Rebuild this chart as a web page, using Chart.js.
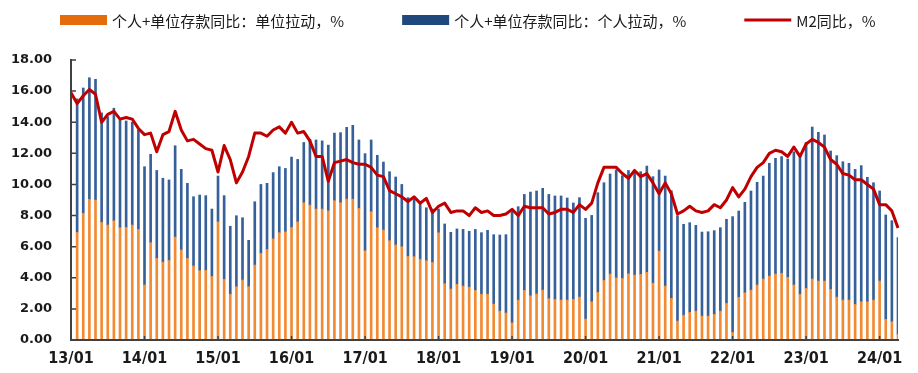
<!DOCTYPE html>
<html>
<head>
<meta charset="utf-8">
<script src="https://cdn.jsdelivr.net/npm/chart.js@4.4.1/dist/chart.umd.min.js"></script>
<style>
  html, body { margin: 0; padding: 0; background: #fff; }
  #wrap { width: 918px; height: 373px; }
</style>
</head>
<body>
<div id="wrap"><canvas id="chart" width="918" height="373"></canvas></div>
<script>
// years shown on the axis, data runs 13/01 .. 24/04
const years = ['13', '14', '15', '16', '17', '18', '19', '20', '21', '22', '23', '24'];
const lastYearMonths = 4;

// 个人+单位存款同比：单位拉动，%
const unitPull = [
  null, 6.92, 8.14, 9.04, 9.00, 7.56, 7.39, 7.67, 7.22, 7.24, 7.39, 7.11,
  3.54, 6.26, 5.25, 5.01, 5.12, 6.62, 5.79, 5.25, 4.76, 4.46, 4.48, 4.09,
  7.60, 3.90, 2.94, 3.43, 3.86, 3.43, 4.82, 5.57, 5.83, 6.51, 6.90, 6.96,
  7.24, 7.60, 8.83, 8.68, 8.42, 8.42, 8.31, 8.96, 8.83, 9.06, 9.06, 8.46,
  5.74, 8.25, 7.22, 7.07, 6.39, 6.11, 6.00, 5.38, 5.36, 5.19, 5.10, 4.99,
  6.90, 3.62, 3.28, 3.58, 3.47, 3.40, 3.19, 2.94, 2.94, 2.31, 1.86, 1.74,
  1.11, 2.57, 3.19, 2.85, 2.96, 3.21, 2.66, 2.61, 2.57, 2.57, 2.61, 2.76,
  1.35, 2.46, 3.06, 3.84, 4.24, 4.00, 3.96, 4.26, 4.18, 4.22, 4.35, 3.66,
  5.72, 3.47, 2.68, 1.22, 1.59, 1.78, 1.86, 1.54, 1.54, 1.65, 1.86, 2.36,
  0.49, 2.74, 3.04, 3.21, 3.54, 3.92, 4.11, 4.24, 4.29, 4.03, 3.54, 2.94,
  3.32, 3.92, 3.79, 3.79, 3.26, 2.76, 2.57, 2.57, 2.29, 2.46, 2.46, 2.57,
  3.79, 1.33, 1.18, 0.36
];

// 个人+单位存款同比：个人拉动，%
const personalPull = [
  null, 8.58, 8.06, 7.82, 7.76, 7.04, 6.97, 7.23, 6.92, 6.84, 6.61, 6.39,
  7.60, 5.68, 5.65, 5.39, 5.17, 5.87, 5.18, 4.82, 4.45, 4.86, 4.80, 4.33,
  2.94, 5.38, 4.37, 4.56, 4.00, 2.98, 4.07, 4.43, 4.24, 4.25, 4.24, 4.07,
  4.52, 4.01, 3.87, 4.22, 4.44, 4.38, 4.22, 4.34, 4.50, 4.61, 4.74, 4.40,
  6.24, 4.61, 4.65, 4.37, 4.43, 4.37, 4.00, 3.77, 3.85, 3.70, 3.40, 3.43,
  1.52, 3.84, 3.64, 3.56, 3.64, 3.59, 3.92, 3.96, 4.11, 4.46, 4.89, 5.03,
  7.14, 6.00, 6.17, 6.66, 6.62, 6.54, 6.70, 6.65, 6.69, 6.56, 6.20, 6.39,
  6.47, 5.55, 6.41, 6.27, 6.43, 6.93, 6.60, 6.64, 6.68, 6.60, 6.83, 6.84,
  5.21, 7.07, 6.92, 6.77, 5.85, 5.76, 5.51, 5.40, 5.42, 5.38, 5.36, 5.40,
  7.44, 5.55, 5.81, 6.37, 6.60, 6.62, 7.25, 7.44, 7.50, 7.61, 8.56, 9.06,
  9.38, 9.77, 9.56, 9.39, 8.89, 9.09, 8.89, 8.79, 8.68, 8.75, 8.00, 7.54,
  5.79, 6.71, 6.49, 6.22
];

// M2同比，%
const m2Yoy = [
  15.9, 15.2, 15.7, 16.1, 15.8, 14.0, 14.5, 14.7, 14.2, 14.3, 14.2, 13.6,
  13.2, 13.3, 12.1, 13.2, 13.4, 14.7, 13.5, 12.8, 12.9, 12.6, 12.3, 12.2,
  10.8, 12.5, 11.6, 10.1, 10.8, 11.8, 13.3, 13.3, 13.1, 13.5, 13.7, 13.3,
  14.0, 13.3, 13.4, 12.8, 11.8, 11.8, 10.2, 11.4, 11.5, 11.6, 11.4, 11.3,
  11.3, 11.1, 10.6, 10.5, 9.6, 9.4, 9.2, 8.9, 9.2, 8.8, 9.1, 8.2,
  8.6, 8.8, 8.2, 8.3, 8.3, 8.0, 8.5, 8.2, 8.3, 8.0, 8.0, 8.1,
  8.4, 8.0, 8.6, 8.5, 8.5, 8.5, 8.1, 8.2, 8.4, 8.4, 8.2, 8.7,
  8.4, 8.8, 10.1, 11.1, 11.1, 11.1, 10.7, 10.4, 10.9, 10.5, 10.7, 10.1,
  9.4, 10.1, 9.4, 8.1, 8.3, 8.6, 8.3, 8.2, 8.3, 8.7, 8.5, 9.0,
  9.8, 9.2, 9.7, 10.5, 11.1, 11.4, 12.0, 12.2, 12.1, 11.8, 12.4, 11.8,
  12.6, 12.9, 12.7, 12.4, 11.6, 11.3, 10.7, 10.6, 10.3, 10.3, 10.0, 9.7,
  8.7, 8.7, 8.3, 7.2
];

const labelUnit = '个人+单位存款同比：单位拉动，%';
const labelPersonal = '个人+单位存款同比：个人拉动，%';
const labelM2 = 'M2同比，%';

const months = [];
years.forEach((y, yi) => {
    const n = yi === years.length - 1 ? lastYearMonths : 12;
    for (let m = 1; m <= n; m++) months.push(`${y}/${String(m).padStart(2, '0')}`);
});

const axisColor = '#404040';
const textColor = '#1a1a1a';

// short tick marks pointing into the plot, like the original
const innerTicks = {
    id: 'innerTicks',
    afterDatasetsDraw(chart) {
        const { ctx, chartArea: a, scales: { x, y } } = chart;
        ctx.save();
        ctx.strokeStyle = axisColor;
        ctx.lineWidth = 1.5;
        ctx.beginPath();
        y.ticks.forEach(t => {
            const py = y.getPixelForValue(t.value);
            ctx.moveTo(a.left, py);
            ctx.lineTo(a.left + 5, py);
        });
        x.ticks.forEach(t => {
            if (!months[t.value].endsWith('/01')) return;
            const px = x.getPixelForValue(t.value);
            ctx.moveTo(px, a.bottom);
            ctx.lineTo(px, a.bottom - 4);
        });
        ctx.stroke();
        ctx.restore();
    }
};

// legend row across the top
const topLegend = {
    id: 'topLegend',
    afterDraw(chart, args, opts) {
        const ctx = chart.ctx;
        ctx.save();
        ctx.font = opts.font;
        ctx.textBaseline = 'middle';
        ctx.fillStyle = textColor;
        let x = opts.startX;
        const cy = opts.y;
        opts.items.forEach(item => {
            const ds = chart.data.datasets[item.index];
            if (item.swatch === 'line') {
                ctx.strokeStyle = item.color;
                ctx.lineWidth = 3;
                ctx.beginPath();
                ctx.moveTo(x, cy);
                ctx.lineTo(x + opts.swatchWidth, cy);
                ctx.stroke();
            } else {
                ctx.fillStyle = item.color;
                ctx.fillRect(x, cy - 5, opts.swatchWidth, 10);
            }
            ctx.fillStyle = textColor;
            const tx = x + opts.swatchWidth + 5;
            ctx.fillText(ds.label, tx, cy + 1);
            x = tx + ctx.measureText(ds.label).width + opts.gap;
        });
        ctx.restore();
    }
};

new Chart(document.getElementById('chart'), {
    data: {
        labels: months,
        datasets: [
            {
                type: 'line',
                label: labelM2,
                data: m2Yoy,
                borderColor: '#C00000',
                borderWidth: 3,
                pointRadius: 0,
                tension: 0,
                borderJoinStyle: 'round',
                stack: 'm2',
                order: 0
            },
            {
                type: 'bar',
                label: labelUnit,
                data: unitPull,
                backgroundColor: '#F28A33',
                barThickness: 2,
                stack: 'deposit',
                order: 1
            },
            {
                type: 'bar',
                label: labelPersonal,
                data: personalPull,
                backgroundColor: '#36609A',
                barThickness: 2,
                stack: 'deposit',
                order: 1
            }
        ]
    },
    options: {
        responsive: false,
        animation: false,
        layout: { padding: { top: 60, right: 20, bottom: 0, left: 0 } },
        plugins: {
            legend: { display: false },
            tooltip: { enabled: false },
            topLegend: {
                font: "15px 'Noto Sans CJK SC', sans-serif",
                startX: 60,
                y: 20,
                swatchWidth: 47,
                gap: 58,
                items: [
                    { index: 1, swatch: 'box', color: '#E46C0A' },
                    { index: 2, swatch: 'box', color: '#1F497D' },
                    { index: 0, swatch: 'line', color: '#C00000' }
                ]
            }
        },
        scales: {
            x: {
                type: 'category',
                stacked: true,
                offset: false,
                grid: { display: false, drawTicks: false },
                border: { display: true, color: axisColor, width: 2, z: 1 },
                ticks: {
                    autoSkip: false,
                    maxRotation: 0,
                    minRotation: 0,
                    padding: 9,
                    color: textColor,
                    font: { family: "'Liberation Sans Narrow', 'DejaVu Sans Condensed', sans-serif", size: 16, weight: 'bold' },
                    callback(value) {
                        const l = this.getLabelForValue(value);
                        return l.endsWith('/01') ? l : '';
                    }
                },
                afterFit(scale) { scale.height = 33; }
            },
            y: {
                stacked: true,
                min: 0,
                max: 18,
                grid: { display: false, drawTicks: false },
                border: { display: true, color: axisColor, width: 2, z: 1 },
                ticks: {
                    stepSize: 2,
                    padding: 19,
                    color: textColor,
                    font: { family: "'DejaVu Sans', sans-serif", size: 13, weight: 'bold' },
                    callback: v => v.toFixed(2)
                },
                afterFit(scale) { scale.width = 71; }
            }
        }
    },
    plugins: [innerTicks, topLegend]
});
</script>
</body>
</html>
